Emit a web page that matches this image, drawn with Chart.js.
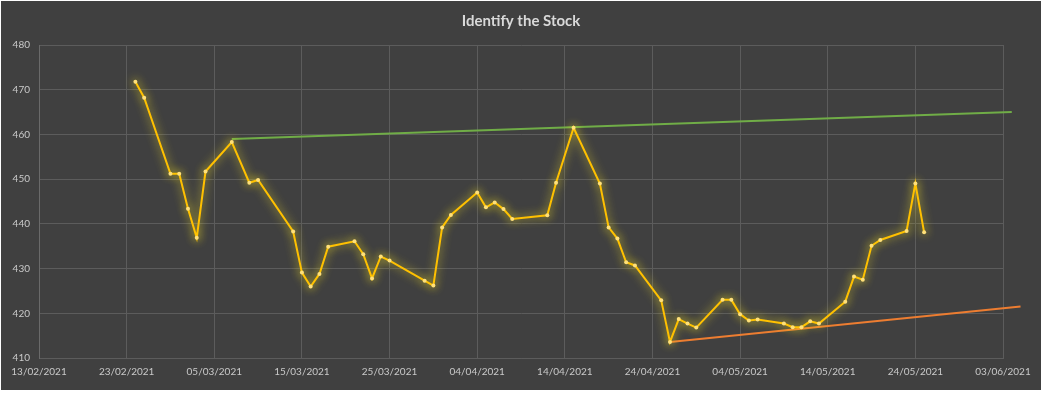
<!DOCTYPE html>
<html>
<head>
<meta charset="utf-8">
<script src="https://cdn.jsdelivr.net/npm/chart.js@4.4.1/dist/chart.umd.min.js"></script>
<style>
  html, body { margin: 0; padding: 0; background: #ffffff; }
  #wrap { position: absolute; left: 1px; top: 1px; width: 1040px; height: 389px; background: #404040; }
</style>
</head>
<body>
<div id="wrap"><canvas id="stock-chart"></canvas></div>
<script>
// price series
const dates = [
  '24/02/2021', '25/02/2021', '28/02/2021', '01/03/2021', '02/03/2021', '03/03/2021', '04/03/2021',
  '07/03/2021', '09/03/2021', '10/03/2021', '14/03/2021', '15/03/2021', '16/03/2021', '17/03/2021',
  '18/03/2021', '21/03/2021', '22/03/2021', '23/03/2021', '24/03/2021', '25/03/2021', '29/03/2021',
  '30/03/2021', '31/03/2021', '01/04/2021', '04/04/2021', '05/04/2021', '06/04/2021', '07/04/2021',
  '08/04/2021', '12/04/2021', '13/04/2021', '15/04/2021', '18/04/2021', '19/04/2021', '20/04/2021',
  '21/04/2021', '22/04/2021', '25/04/2021', '26/04/2021', '27/04/2021', '28/04/2021', '29/04/2021',
  '02/05/2021', '03/05/2021', '04/05/2021', '05/05/2021', '06/05/2021', '09/05/2021', '10/05/2021',
  '11/05/2021', '12/05/2021', '13/05/2021', '16/05/2021', '17/05/2021', '18/05/2021', '19/05/2021',
  '20/05/2021', '23/05/2021', '24/05/2021', '25/05/2021'
];
const prices = [
  471.8, 468.2, 451.2, 451.2, 443.4, 436.9, 451.7,
  458.3, 449.2, 449.8, 438.3, 429.1, 426.0, 428.8,
  434.9, 436.1, 433.2, 427.8, 432.7, 431.8, 427.3,
  426.2, 439.2, 442.0, 447.0, 443.7, 444.8, 443.3,
  441.1, 441.9, 449.2, 461.5, 449.0, 439.2, 436.7,
  431.4, 430.7, 422.9, 413.6, 418.7, 417.7, 416.8,
  423.0, 423.0, 419.8, 418.4, 418.6, 417.7, 416.9,
  416.9, 418.2, 417.7, 422.6, 428.2, 427.5, 435.1,
  436.4, 438.4, 449.0, 438.1
];

// hand drawn resistance / support lines
const resistanceDates = ['07/03/2021', '04/06/2021'];
const resistanceValues = [459.0, 465.0];
const supportDates = ['26/04/2021', '05/06/2021'];
const supportValues = [413.6, 421.5];

// axis
const startDate = '13/02/2021';
const endDate = '03/06/2021';
const yTicks = [410, 420, 430, 440, 450, 460, 470, 480];

function dayIndex(str) {
  const [d, m, y] = str.split('/').map(Number);
  const [d0, m0, y0] = startDate.split('/').map(Number);
  return Math.round((Date.UTC(y, m - 1, d) - Date.UTC(y0, m0 - 1, d0)) / 86400000);
}

function dayLabel(value) {
  const [d0, m0, y0] = startDate.split('/').map(Number);
  const dt = new Date(Date.UTC(y0, m0 - 1, d0 + value));
  const dd = String(dt.getUTCDate()).padStart(2, '0');
  const mm = String(dt.getUTCMonth() + 1).padStart(2, '0');
  return dd + '/' + mm + '/' + dt.getUTCFullYear();
}

function toPoints(ds, vs) {
  return ds.map((d, i) => ({ x: dayIndex(d), y: vs[i] }));
}

// soft yellow glow round the price line
const glowPlugin = {
  id: 'glow',
  beforeDatasetDraw(chart, args) {
    if (args.index !== 0) return;
    const ctx = chart.ctx;
    ctx.save();
    ctx.shadowColor = 'rgba(255, 235, 40, 0.9)';
    ctx.shadowBlur = 10;
  },
  afterDatasetDraw(chart, args) {
    if (args.index !== 0) return;
    chart.ctx.restore();
  }
};

const tickColor = '#c9c9c9';
const gridColor = '#5c5c5c';

new Chart(document.getElementById('stock-chart'), {
  type: 'line',
  data: {
    datasets: [
      {
        label: 'Price',
        data: toPoints(dates, prices),
        borderColor: '#ffc000',
        borderWidth: 2,
        pointRadius: 2,
        pointBackgroundColor: '#ffe07a',
        pointBorderWidth: 0,
        tension: 0
      },
      {
        label: 'Resistance',
        data: toPoints(resistanceDates, resistanceValues),
        borderColor: '#70ad47',
        borderWidth: 2,
        pointRadius: 0,
        clip: false
      },
      {
        label: 'Support',
        data: toPoints(supportDates, supportValues),
        borderColor: '#ed7d31',
        borderWidth: 2,
        pointRadius: 0,
        clip: false
      }
    ]
  },
  options: {
    responsive: true,
    maintainAspectRatio: false,
    animation: false,
    layout: { padding: { left: 0, right: 38, top: 0, bottom: 4 } },
    plugins: {
      legend: { display: false },
      tooltip: { enabled: false },
      title: {
        display: true,
        fullSize: false,
        text: 'Identify the Stock',
        color: '#d9d9d9',
        font: { family: 'Lato', size: 15, weight: 'bold' },
        padding: { top: 11, bottom: 15 }
      }
    },
    scales: {
      x: {
        type: 'linear',
        min: dayIndex(startDate),
        max: dayIndex(endDate),
        afterBuildTicks(scale) {
          const ticks = [];
          for (let v = scale.min; v <= scale.max; v += 10) ticks.push({ value: v });
          scale.ticks = ticks;
        },
        afterFit(scale) { scale.height = 28; },
        grid: { color: gridColor, lineWidth: 1, drawTicks: false },
        border: { color: gridColor },
        ticks: {
          color: tickColor,
          font: { family: 'Lato', size: 10 },
          padding: 8,
          maxRotation: 0,
          callback: value => dayLabel(value)
        }
      },
      y: {
        min: yTicks[0],
        max: yTicks[yTicks.length - 1],
        afterBuildTicks(scale) {
          scale.ticks = yTicks.map(v => ({ value: v }));
        },
        afterFit(scale) { scale.width = 38; },
        grid: { color: gridColor, lineWidth: 1, drawTicks: false },
        border: { color: '#6a6a6a' },
        ticks: {
          color: tickColor,
          font: { family: 'Lato', size: 10 },
          padding: 9
        }
      }
    }
  },
  plugins: [glowPlugin]
});
</script>
</body>
</html>
